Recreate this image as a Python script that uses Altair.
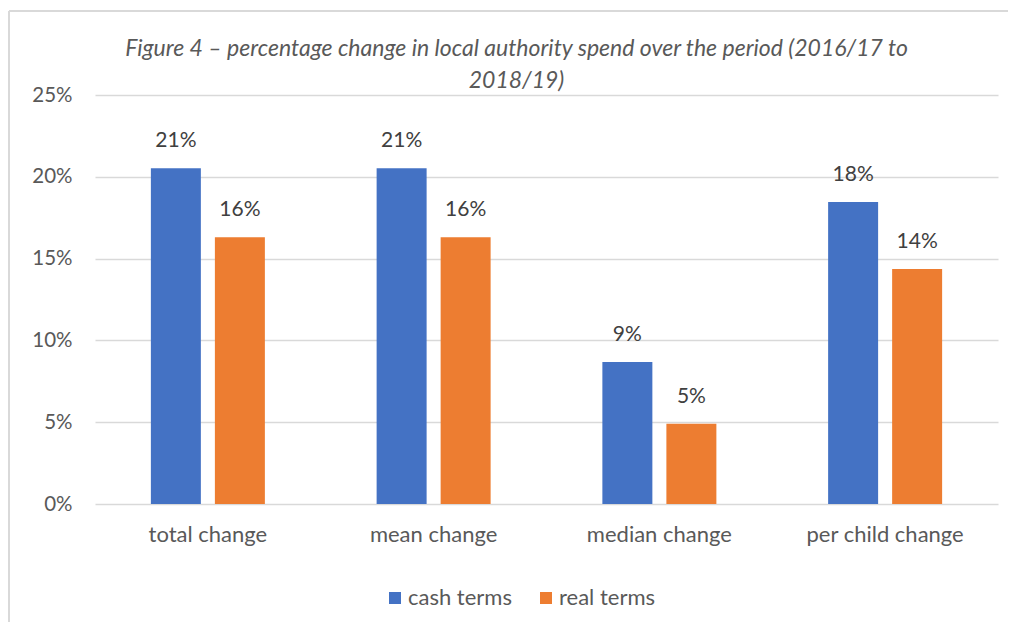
import altair as alt
import pandas as pd

categories = ["total change", "mean change", "median change", "per child change"]
series = ["cash terms", "real terms"]
cash_values = [0.2052, 0.2052, 0.0868, 0.1846]
real_values = [0.1630, 0.1630, 0.0490, 0.1436]
y_ticks = [0, 0.05, 0.10, 0.15, 0.20, 0.25]
colors = ["#4472C4", "#ED7D31"]

rows = []
for c, v in zip(categories, cash_values):
    rows.append({"category": c, "series": series[0], "value": v})
for c, v in zip(categories, real_values):
    rows.append({"category": c, "series": series[1], "value": v})
df = pd.DataFrame(rows)

FONT = "Lato"
W, H = 903, 409

x = alt.X("category:N", sort=categories, title=None,
          scale=alt.Scale(paddingInner=0.495, paddingOuter=0.2475),
          axis=alt.Axis(labelAngle=0, labelFontSize=22, labelColor="#595959",
                        labelFont=FONT, domain=False, ticks=False, labelPadding=20))
xo = alt.XOffset("series:N", sort=series,
                 scale=alt.Scale(paddingInner=0.219, paddingOuter=0))
y = alt.Y("value:Q", title=None,
          scale=alt.Scale(domain=[0, 0.25], nice=False),
          axis=alt.Axis(values=y_ticks, format=".0%", labelFontSize=20.5,
                        labelColor="#595959", labelFont=FONT, domain=False,
                        ticks=False, labelPadding=23, gridColor="#d9d9d9",
                        gridWidth=1.5))

base = alt.Chart(df)
bars = base.mark_bar().encode(
    x=x, xOffset=xo, y=y,
    color=alt.Color("series:N", sort=series,
                    scale=alt.Scale(domain=series, range=colors),
                    legend=alt.Legend(title=None, orient="none", direction="horizontal",
                                      legendX=289, legendY=492, padding=0,
                                      symbolType="square", symbolSize=144,
                                      symbolStrokeWidth=0, labelFontSize=22,
                                      labelColor="#595959", labelFont=FONT,
                                      labelOffset=2, columnPadding=23)),
)
labels = base.mark_text(baseline="middle", dy=-27, fontSize=21,
                        color="#404040", font=FONT).encode(
    x=x, xOffset=xo, y=y,
    text=alt.Text("value:Q", format=".0%"),
)

border_left = alt.Chart(pd.DataFrame({"a": [0]})).mark_rule(
    color="#d9d9d9", strokeWidth=2, clip=False).encode(
    x=alt.value(-86), y=alt.value(-84), y2=alt.value(H + 130))
border_top = alt.Chart(pd.DataFrame({"a": [0]})).mark_rule(
    color="#d9d9d9", strokeWidth=2, clip=False).encode(
    x=alt.value(-86), x2=alt.value(W + 60), y=alt.value(-84))

chart = alt.layer(border_left, border_top, bars, labels).properties(
    width=W, height=H,
    title=alt.TitleParams(
        ["Figure 4 \u2013 percentage change in local authority spend over the period (2016/17 to",
         "2018/19)"],
        font=FONT, fontSize=23, fontStyle="italic", fontWeight="normal",
        color="#595959", lineHeight=32, anchor="middle", dx=-30, offset=-83),
    padding={"left": 87, "top": 87, "right": 10, "bottom": 118},
    autosize=alt.AutoSizeParams(type="none"),
).configure_view(stroke=None)

chart.save("out.html", embed_options={"renderer": "svg", "actions": False})
